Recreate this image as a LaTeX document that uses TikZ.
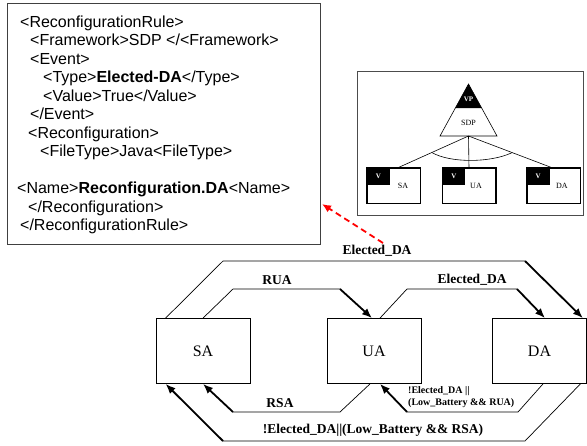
\documentclass[tikz,border=0pt]{standalone}
\usepackage{fontspec}
\setmainfont{Liberation Serif}
\newfontfamily\arialfont{Liberation Sans}
\usetikzlibrary{arrows.meta}
\begin{document}
\begin{tikzpicture}[x=1pt,y=-1pt,
  xmlbox/.style={draw=black!75, line width=1pt, inner sep=0, minimum width=313pt, minimum height=241pt},
  xmlline/.style={anchor=base west, inner sep=0, font=\arialfont\fontsize{16}{18}\selectfont},
  featframe/.style={draw=black!70, line width=0.8pt, inner sep=0, minimum width=226pt, minimum height=144pt},
  feat/.style={draw, line width=0.6pt, minimum width=53pt, minimum height=35pt, inner sep=0, font=\fontsize{8}{9}\selectfont},
  vbox/.style={fill=black, minimum width=23pt, minimum height=17pt, inner sep=0, text=white, font=\bfseries\fontsize{7}{8}\selectfont, anchor=north west},
  fline/.style={line width=0.6pt},
  state/.style={draw, line width=0.8pt, minimum width=94pt, minimum height=65pt, inner sep=0, font=\fontsize{16}{18}\selectfont},
  lbl/.style={font=\bfseries\fontsize{13.5}{15}\selectfont, inner sep=0},
  smalllbl/.style={font=\bfseries\fontsize{10}{12}\selectfont, inner sep=0, align=left, anchor=north west},
  trans/.style={line width=0.7pt},
  head/.style={line width=1.8pt, -{Latex[length=10pt,width=8pt]}},
  redarrow/.style={draw=red, line width=1.8pt, dash pattern=on 6pt off 4pt, -{Latex[length=9pt,width=8pt]}}
]
\useasboundingbox (0,0) rectangle (587,445);

% XML rule box
\node[xmlbox] (xml) at (163.5,124) {};
\node[xmlline] (x1) at (20,27) {<ReconfigurationRule>};
\node[xmlline] (x2) at (30,45.5) {<Framework>SDP </<Framework>};
\node[xmlline] (x3) at (30,64) {<Event>};
\node[xmlline] (x4) at (43,82.5) {<Type>\textbf{Elected-DA}</Type>};
\node[xmlline] (x5) at (43,101) {<Value>True</Value>};
\node[xmlline] (x6) at (30,119.5) {</Event>};
\node[xmlline] (x7) at (28,138) {<Reconfiguration>};
\node[xmlline] (x8) at (40,156.5) {<FileType>Java<FileType>};
\node[xmlline] (x9) at (17,193.5) {<Name>\textbf{Reconfiguration.DA}<Name>};
\node[xmlline] (x10) at (28,212) {</Reconfiguration>};
\node[xmlline] (x11) at (20,230.5) {</ReconfigurationRule>};

% feature diagram
\node[featframe] (ff) at (470,143) {};
\draw[fline] (468.5,84) -- (440,136) -- (497,136) -- cycle;
\fill (468.5,84) -- (455.3,108) -- (481.7,108) -- cycle;
\node[text=white, font=\bfseries\fontsize{7}{8}\selectfont, inner sep=0] (vp) at (468.5,99) {VP};
\node[font=\fontsize{8}{9}\selectfont, inner sep=0] (sdp) at (468.5,123) {SDP};
\coordinate (tb) at (468.5,136);
\node[feat] (fsa) at (393.5,185.5) {\hspace*{19pt}\raisebox{-2.5pt}{SA}};
\node[feat] (fua) at (469,185.5) {\hspace*{14pt}\raisebox{-2.5pt}{UA}};
\node[feat] (fda) at (553.3,185.5) {\hspace*{17pt}\raisebox{-2.5pt}{DA}};
\node[vbox] (vsa) at (fsa.north west) {V};
\node[vbox] (vua) at (fua.north west) {V};
\node[vbox] (vda) at (fda.north west) {V};
\draw[fline] (fsa.north west) rectangle (fsa.south east);
\draw[fline] (fua.north west) rectangle (fua.south east);
\draw[fline] (fda.north west) rectangle (fda.south east);
\draw[fline] (tb) -- ([xshift=4.5pt]fsa.north);
\draw[fline] (tb) -- (fua.north);
\draw[fline] (tb) -- ([xshift=-1.3pt]fda.north);
\draw[fline] (432,152.6) .. controls (450,163) and (490,163) .. (512,152.7);

% red dashed link
\coordinate (rs) at (383,243);
\coordinate (re) at (322,204);
\draw[redarrow] (rs) -- (re);

% state machine
\node[state] (sa) at (203,351) {\raisebox{-7pt}{SA}};
\node[state] (ua) at (374,351) {\raisebox{-7pt}{UA}};
\node[state] (da) at (539.5,351) {\raisebox{-7pt}{DA}};

\coordinate (o1) at (223,261); \coordinate (o2) at (525,261);
\coordinate (r1) at (233,289); \coordinate (r2) at (340,289);
\coordinate (e1) at (407,289); \coordinate (e2) at (517,289);
\coordinate (s1) at (340,412); \coordinate (s2) at (233,412);
\coordinate (d1) at (518,412); \coordinate (d2) at (407,412);
\coordinate (b1) at (525,441); \coordinate (b2) at (223,441);

\draw[trans] ([xshift=10pt]sa.north west) -- (o1) -- (o2);
\draw[head] (o2) -- ([xshift=-4pt]da.north east);
\draw[trans] (sa.north) -- (r1) -- (r2);
\draw[head] (r2) -- ([xshift=-2pt]ua.north);
\draw[trans] ([xshift=6pt]ua.north) -- (e1) -- (e2);
\draw[head] (e2) -- ([xshift=5.5pt]da.north);
\draw[trans] ([xshift=-4pt]ua.south) -- (s1) -- (s2);
\draw[head] (s2) -- (sa.south);
\draw[trans] ([xshift=3.5pt]da.south) -- (d1) -- (d2);
\draw[head] (d2) -- ([xshift=6pt]ua.south);
\draw[trans] ([xshift=-6.5pt]da.south east) -- (b1) -- (b2);
\draw[head] (b2) -- ([xshift=10pt]sa.south west);

\node[lbl] (l1) at (377,251) {Elected\_DA};
\node[lbl] (l2) at (277,280) {RUA};
\node[lbl] (l3) at (472,280) {Elected\_DA};
\node[lbl] (l4) at (280,403) {RSA};
\node[smalllbl] (l5) at (408,386) {!Elected\_DA ||\\(Low\_Battery \&\& RUA)};
\node[lbl] (l6) at (373,430) {!Elected\_DA||(Low\_Battery \&\& RSA)};
\end{tikzpicture}
\end{document}
